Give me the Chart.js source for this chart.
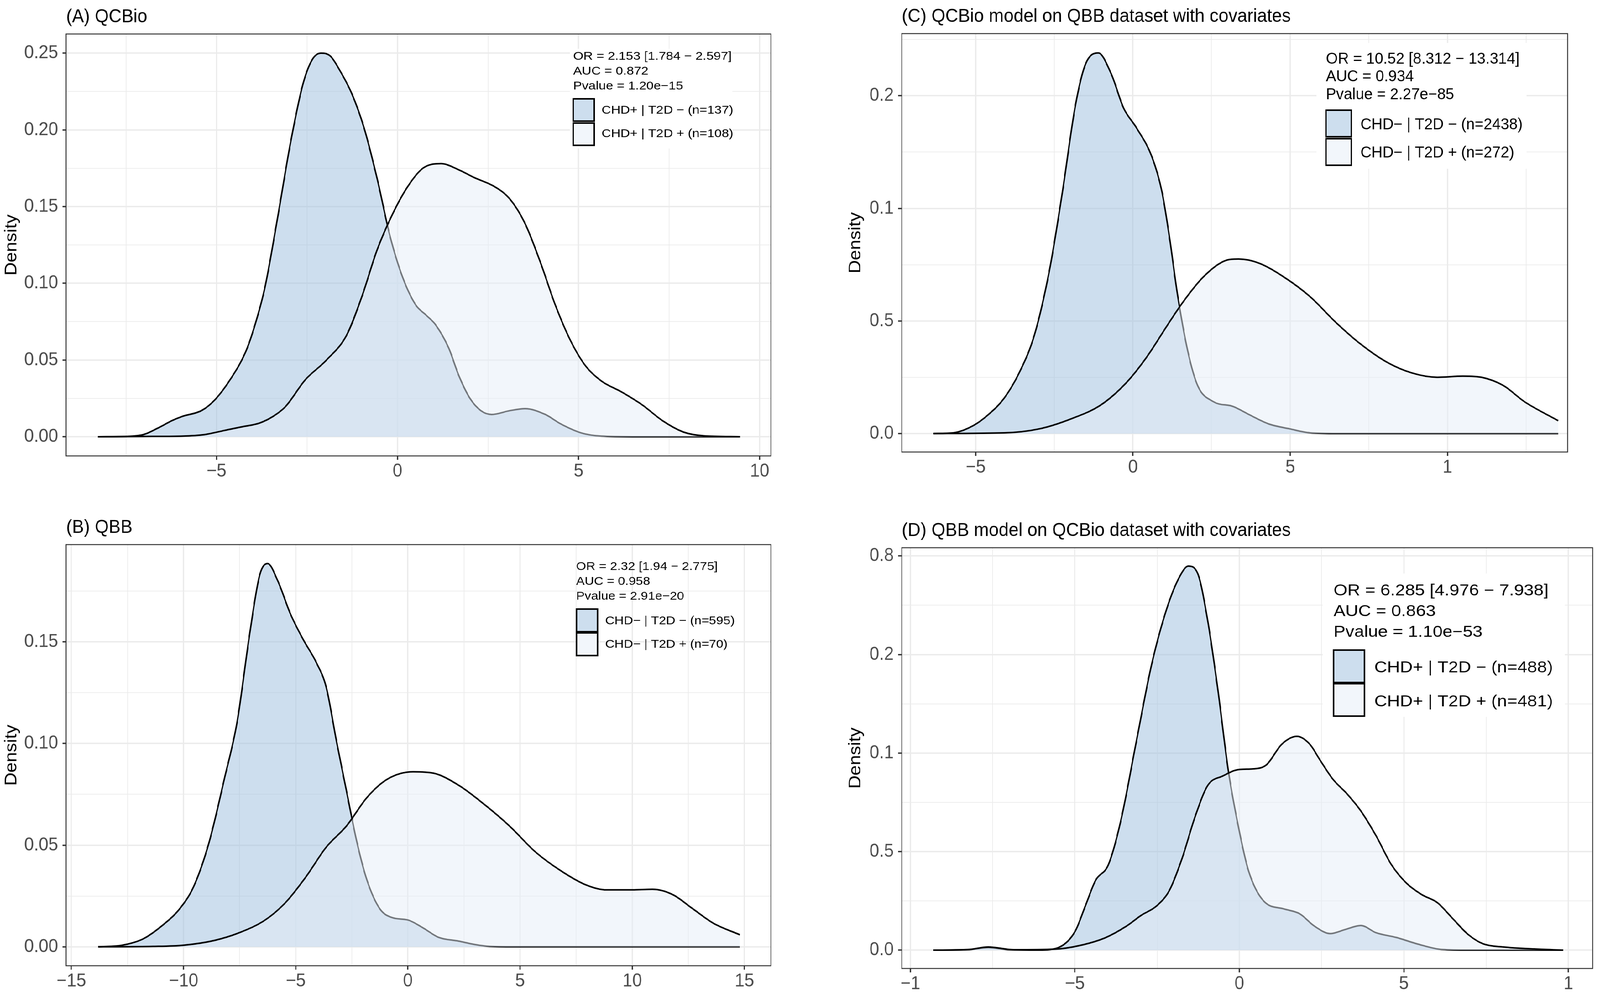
<!DOCTYPE html>
<html>
<head>
<meta charset="utf-8">
<title>Density plots</title>
<script src="https://cdn.jsdelivr.net/npm/chart.js@4.4.1/dist/chart.umd.min.js"></script>
<style>
  html, body { margin: 0; padding: 0; background: #fff; overflow: hidden; }
  #wrap { position: relative; overflow: hidden; background: #fff; }
  #page { position: absolute; left: 0; top: 0; width: 4402px; height: 2552px; overflow: hidden; background: #fff; transform-origin: 0 0; }
  canvas { position: absolute; }
</style>
</head>
<body>
<div id="wrap">
  <div id="page">
    <canvas id="panelA"></canvas>
    <canvas id="panelB"></canvas>
    <canvas id="panelC"></canvas>
    <canvas id="panelD"></canvas>
  </div>
</div>
<script>
// ---- Data ----
// each curve: [x, density]
const A_NEG = [[-8.27,0],[-7.4,0.0003],[-7.0,0.0015],[-6.62,0.0056],[-6.21,0.0107],[-5.95,0.0132],[-5.4,0.0172],[-5.03,0.0244],[-4.6,0.038],[-4.2,0.055],[-3.94,0.0726],[-3.66,0.0975],[-3.31,0.143],[-2.96,0.191],[-2.61,0.23],[-2.35,0.246],[-2.11,0.25],[-1.85,0.248],[-1.6,0.239],[-1.27,0.224],[-0.92,0.201],[-0.56,0.168],[-0.21,0.131],[0.14,0.104],[0.5,0.086],[0.8,0.079],[1.05,0.073],[1.41,0.058],[1.69,0.04],[2.0,0.025],[2.3,0.017],[2.6,0.0145],[3.1,0.017],[3.52,0.0183],[4.08,0.0145],[4.51,0.0083],[5.07,0.0025],[5.63,0.0004],[6.5,0],[9.46,0]];
const A_POS = [[-8.27,0],[-6.76,0.0002],[-5.85,0.0005],[-5.33,0.0014],[-4.82,0.0039],[-4.31,0.0064],[-3.8,0.009],[-3.44,0.0132],[-3.1,0.0195],[-2.54,0.0373],[-1.97,0.0498],[-1.41,0.066],[-0.99,0.091],[-0.56,0.122],[-0.14,0.145],[0.28,0.163],[0.7,0.175],[1.2,0.178],[1.69,0.174],[2.11,0.169],[2.68,0.163],[3.1,0.155],[3.52,0.139],[3.94,0.114],[4.37,0.085],[4.79,0.062],[5.21,0.0456],[5.63,0.0363],[6.2,0.029],[6.76,0.0207],[7.32,0.0104],[7.89,0.0031],[8.45,0.0006],[9.46,0]];

const B_NEG = [[-13.8,0],[-12.73,0.0008],[-11.8,0.0039],[-10.9,0.0109],[-10.23,0.0179],[-9.55,0.0296],[-8.86,0.0514],[-8.18,0.0826],[-7.61,0.1106],[-7.05,0.154],[-6.6,0.183],[-6.25,0.1885],[-5.8,0.18],[-5.23,0.1636],[-4.66,0.151],[-4.09,0.14],[-3.64,0.1277],[-3.18,0.101],[-2.73,0.0763],[-2.27,0.0514],[-1.82,0.0327],[-1.25,0.0187],[-0.68,0.0143],[0,0.0132],[0.68,0.0093],[1.36,0.0047],[2.27,0.0028],[2.95,0.0012],[3.64,0.0002],[5,0],[14.8,0]];
const B_POS = [[-13.8,0],[-11.36,0.0002],[-10,0.0008],[-8.64,0.0031],[-7.5,0.007],[-6.36,0.0132],[-5.45,0.0218],[-4.55,0.0343],[-3.64,0.049],[-2.73,0.0595],[-1.82,0.0735],[-0.91,0.0825],[0.23,0.0861],[1.14,0.0854],[2.27,0.0794],[3.41,0.07],[4.55,0.0592],[5.68,0.0467],[6.82,0.0374],[7.95,0.0304],[8.86,0.028],[10,0.028],[10.9,0.0283],[11.8,0.0257],[12.7,0.0187],[13.6,0.0117],[14.8,0.0059]];

const C_NEG = [[-6.34,0],[-5.72,0.0003],[-5.08,0.0035],[-4.59,0.0085],[-4.1,0.0156],[-3.62,0.0269],[-3.13,0.0439],[-2.64,0.0736],[-2.24,0.1075],[-1.83,0.1457],[-1.51,0.164],[-1.1,0.169],[-0.7,0.16],[-0.29,0.1443],[0.11,0.1358],[0.6,0.123],[0.92,0.1075],[1.17,0.0863],[1.41,0.0623],[1.74,0.0368],[2.06,0.0212],[2.55,0.0142],[3.19,0.012],[3.68,0.0085],[4.33,0.0042],[4.98,0.0021],[5.63,0.0003],[6.5,0],[13.52,0]];
const C_POS = [[-6.34,0],[-4.1,0.0003],[-2.97,0.0021],[-1.99,0.0064],[-1.02,0.0127],[-0.21,0.0226],[0.44,0.034],[1.09,0.048],[1.57,0.058],[2.22,0.0693],[2.87,0.0764],[3.36,0.0775],[4.0,0.0757],[4.82,0.0693],[5.63,0.0608],[6.44,0.0495],[7.25,0.0396],[8.06,0.0318],[8.87,0.0269],[9.68,0.025],[10.49,0.0255],[11.14,0.0248],[11.79,0.0212],[12.44,0.0142],[13.52,0.0057]];

const D_NEG = [[-9.3,0],[-8.25,0.0002],[-7.63,0.0013],[-7.0,0.0002],[-6.08,0],[-5.46,0.0016],[-4.99,0.0096],[-4.68,0.0225],[-4.37,0.0354],[-3.98,0.0434],[-3.6,0.0659],[-3.13,0.106],[-2.67,0.1447],[-2.2,0.1736],[-1.81,0.1897],[-1.55,0.1949],[-1.27,0.1913],[-0.96,0.167],[-0.65,0.1318],[-0.34,0.0916],[-0.03,0.0627],[0.28,0.0402],[0.74,0.0249],[1.36,0.0209],[1.83,0.0185],[2.29,0.0121],[2.76,0.0084],[3.22,0.0105],[3.69,0.0125],[4.16,0.0088],[4.78,0.0064],[5.4,0.0032],[6.17,0.0003],[7,0],[9.84,0]];
const D_POS = [[-9.3,0],[-8.25,0.0003],[-7.63,0.0016],[-6.85,0.0002],[-5.61,0.0005],[-4.84,0.0024],[-4.06,0.0064],[-3.44,0.0121],[-2.98,0.0177],[-2.51,0.0225],[-2.12,0.0305],[-1.74,0.0466],[-1.35,0.0675],[-0.96,0.0836],[-0.5,0.0884],[-0.03,0.0916],[0.43,0.092],[0.82,0.094],[1.29,0.1045],[1.75,0.1085],[2.14,0.1045],[2.45,0.0965],[2.84,0.0868],[3.3,0.0788],[3.69,0.0707],[4.16,0.0579],[4.62,0.0434],[5.09,0.0338],[5.55,0.0281],[6.02,0.0241],[6.48,0.0161],[6.95,0.008],[7.41,0.0032],[8.03,0.0016],[8.96,0.0006],[9.84,0]];

// ---- Axis ranges and tick labels ----
const A_XRANGE = [-9.15, 10.31];
const A_YRANGE = [-0.0125, 0.2625];
const A_XTICKS = [-5, 0, 5, 10];
const A_XLABELS = ['\u22125', '0', '5', '10'];
const A_YTICKS = [0, 0.05, 0.10, 0.15, 0.20, 0.25];
const A_YLABELS = ['0.00', '0.05', '0.10', '0.15', '0.20', '0.25'];

const B_XRANGE = [-15.23, 16.18];
const B_YRANGE = [-0.0093, 0.1978];
const B_XTICKS = [-15, -10, -5, 0, 5, 10, 15];
const B_XLABELS = ['\u221215', '\u221210', '\u22125', '0', '5', '10', '15'];
const B_YTICKS = [0, 0.05, 0.10, 0.15];
const B_YLABELS = ['0.00', '0.05', '0.10', '0.15'];

const C_XRANGE = [-7.35, 13.82];
const C_YRANGE = [-0.0082, 0.1776];
const C_XTICKS = [-5, 0, 5, 10];
const C_XLABELS = ['\u22125', '0', '5', '1'];
const C_YTICKS = [0, 0.05, 0.10, 0.15];
const C_YLABELS = ['0.0', '0.5', '0.1', '0.2'];

const D_XRANGE = [-10.26, 10.74];
const D_YRANGE = [-0.0093, 0.2042];
const D_XTICKS = [-10, -5, 0, 5, 10];
const D_XLABELS = ['\u22121', '\u22125', '0', '5', '1'];
const D_YTICKS = [0, 0.05, 0.10, 0.15, 0.20];
const D_YLABELS = ['0.0', '0.5', '0.1', '0.2', '0.8'];

// ---- Texts ----
const TITLES = ['(A) QCBio', '(B) QBB', '(C) QCBio model on QBB dataset with covariates', '(D) QBB model on QCBio dataset with covariates'];
const A_STATS = ['OR = 2.153 [1.784 \u2212 2.597]', 'AUC = 0.872', 'Pvalue = 1.20e\u221215'];
const A_GROUPS = ['CHD+ | T2D \u2212 (n=137)', 'CHD+ | T2D + (n=108)'];
const B_STATS = ['OR = 2.32 [1.94 \u2212 2.775]', 'AUC = 0.958', 'Pvalue = 2.91e\u221220'];
const B_GROUPS = ['CHD\u2212 | T2D \u2212 (n=595)', 'CHD\u2212 | T2D + (n=70)'];
const C_STATS = ['OR = 10.52 [8.312 \u2212 13.314]', 'AUC = 0.934', 'Pvalue = 2.27e\u221285'];
const C_GROUPS = ['CHD\u2212 | T2D \u2212 (n=2438)', 'CHD\u2212 | T2D + (n=272)'];
const D_STATS = ['OR = 6.285 [4.976 \u2212 7.938]', 'AUC = 0.863', 'Pvalue = 1.10e\u221253'];
const D_GROUPS = ['CHD+ | T2D \u2212 (n=488)', 'CHD+ | T2D + (n=481)'];

// ---- Styles ----
const FONT = '"Liberation Sans", Arial, Helvetica, sans-serif';
const NEG_FILL = 'rgba(155,189,221,0.5)';
const POS_FILL = 'rgba(229,237,247,0.5)';
const GRID = '#ebebeb';
const AXIS_DARK = '#333333';
const TICK_TEXT = '#4d4d4d';
const X_AXIS_H = 70;

// ---- Stretch the 4402x2552 page over the whole window ----
const page = document.getElementById('page');
const wrap = document.getElementById('wrap');
const fitX = window.innerWidth / 4402;
const fitY = window.innerHeight / 2552;
page.style.transform = 'scale(' + fitX + ',' + fitY + ')';
wrap.style.width = window.innerWidth + 'px';
wrap.style.height = window.innerHeight + 'px';

// ---- Helpers ----
function withMinor(major, range) {
  const step = major[1] - major[0];
  const out = [];
  for (let v = major[0] - step; v <= major[major.length - 1] + step + 1e-9; v += step / 2) {
    if (v >= range[0] && v <= range[1]) out.push(+v.toFixed(6));
  }
  return out;
}

function isMajor(v, major) {
  return major.some(t => Math.abs(t - v) < 1e-9);
}

function labelFor(v, major, labels) {
  const i = major.findIndex(t => Math.abs(t - v) < 1e-9);
  return i < 0 ? '' : labels[i];
}

function toPoints(arr) {
  return arr.map(p => ({ x: p[0], y: p[1] }));
}

function scaledText(ctx, s, x, y, sx) {
  ctx.save();
  ctx.translate(x, y);
  ctx.scale(sx, 1);
  ctx.fillText(s, 0, 0);
  ctx.restore();
}

// ---- Plugin: panel border, title, axis title, legend ----
const panelDeco = {
  id: 'panelDeco',
  afterDraw(chart, args, o) {
    const { ctx, chartArea: a } = chart;
    const ox = o.offset[0], oy = o.offset[1];
    ctx.save();

    // panel border
    ctx.strokeStyle = AXIS_DARK;
    ctx.lineWidth = 2.5;
    ctx.strokeRect(a.left, a.top, a.right - a.left, a.bottom - a.top);

    // title
    ctx.fillStyle = '#000';
    ctx.font = '49px ' + FONT;
    ctx.textAlign = 'left';
    ctx.textBaseline = 'alphabetic';
    ctx.fillText(o.title, a.left, a.top - 30);

    // y axis title
    ctx.save();
    ctx.translate(o.densityX - ox, (a.top + a.bottom) / 2);
    ctx.rotate(-Math.PI / 2);
    ctx.textAlign = 'center';
    ctx.textBaseline = 'middle';
    ctx.font = '47px ' + FONT;
    ctx.fillText('Density', 0, 0);
    ctx.restore();

    // legend
    const lg = o.legend;
    if (lg.bg) {
      ctx.fillStyle = '#fff';
      ctx.fillRect(lg.bg[0] - ox, lg.bg[1] - oy, lg.bg[2], lg.bg[3]);
    }
    ctx.fillStyle = '#000';
    ctx.font = lg.font + 'px ' + FONT;
    ctx.textAlign = 'left';
    ctx.textBaseline = 'alphabetic';
    o.stats.forEach((s, i) => scaledText(ctx, s, lg.tx - ox, lg.base[i] - oy, lg.sx));

    [NEG_FILL, POS_FILL].forEach((fill, i) => {
      const kx = lg.kx - ox, ky = lg.ky[i] - oy;
      ctx.fillStyle = '#fff';
      ctx.fillRect(kx, ky, lg.kw, lg.kh);
      ctx.fillStyle = fill;
      ctx.fillRect(kx, ky, lg.kw, lg.kh);
      ctx.strokeStyle = '#000';
      ctx.lineWidth = 4;
      ctx.strokeRect(kx, ky, lg.kw, lg.kh);
    });

    ctx.fillStyle = '#000';
    ctx.textBaseline = 'middle';
    o.groups.forEach((s, i) => scaledText(ctx, s, lg.lx - ox, lg.ly[i] - oy, lg.sx));

    ctx.restore();
  }
};

// ---- Build one panel ----
function makePanel(p) {
  const canvas = document.getElementById(p.id);
  const [cx, cy, cw, ch] = p.canvas;
  canvas.width = cw;
  canvas.height = ch;
  canvas.style.left = cx + 'px';
  canvas.style.top = cy + 'px';
  canvas.style.width = cw + 'px';
  canvas.style.height = ch + 'px';

  const [L, T, R, B] = p.area;
  const yAxisW = L - cx;
  const xTicksAll = withMinor(p.xTicks, p.xRange);
  const yTicksAll = withMinor(p.yTicks, p.yRange);

  const tickFont = { family: FONT, size: 48 };

  new Chart(canvas.getContext('2d'), {
    type: 'line',
    data: {
      datasets: [
        {
          label: p.groups[1],
          data: toPoints(p.pos),
          borderColor: '#000',
          borderWidth: 4,
          backgroundColor: POS_FILL,
          fill: 'origin',
          pointRadius: 0,
          cubicInterpolationMode: 'monotone',
          borderJoinStyle: 'round',
          order: 1
        },
        {
          label: p.groups[0],
          data: toPoints(p.neg),
          borderColor: '#000',
          borderWidth: 4,
          backgroundColor: NEG_FILL,
          fill: 'origin',
          pointRadius: 0,
          cubicInterpolationMode: 'monotone',
          borderJoinStyle: 'round',
          order: 2
        }
      ]
    },
    options: {
      responsive: false,
      animation: false,
      devicePixelRatio: 1,
      layout: {
        padding: {
          left: 0,
          top: T - cy,
          right: cx + cw - R,
          bottom: cy + ch - B - X_AXIS_H
        }
      },
      plugins: {
        legend: { display: false },
        tooltip: { enabled: false },
        panelDeco: {
          offset: [cx, cy],
          title: p.title,
          densityX: p.densityX,
          stats: p.stats,
          groups: p.groups,
          legend: p.legend
        }
      },
      scales: {
        x: {
          type: 'linear',
          position: 'bottom',
          min: p.xRange[0],
          max: p.xRange[1],
          afterBuildTicks: s => { s.ticks = xTicksAll.map(v => ({ value: v })); },
          afterFit: s => { s.height = X_AXIS_H; },
          border: { display: false },
          grid: {
            color: GRID,
            lineWidth: c => (c.tick && isMajor(c.tick.value, p.xTicks)) ? 3.5 : 1.8,
            drawTicks: true,
            tickLength: 10,
            tickWidth: 3.5,
            tickColor: c => (c.tick && isMajor(c.tick.value, p.xTicks)) ? AXIS_DARK : 'rgba(0,0,0,0)'
          },
          ticks: {
            autoSkip: false,
            maxRotation: 0,
            minRotation: 0,
            padding: 1,
            color: TICK_TEXT,
            font: tickFont,
            callback: v => labelFor(v, p.xTicks, p.xLabels)
          }
        },
        y: {
          type: 'linear',
          position: 'left',
          min: p.yRange[0],
          max: p.yRange[1],
          afterBuildTicks: s => { s.ticks = yTicksAll.map(v => ({ value: v })); },
          afterFit: s => { s.width = yAxisW; },
          border: { display: false },
          grid: {
            color: GRID,
            lineWidth: c => (c.tick && isMajor(c.tick.value, p.yTicks)) ? 3.5 : 1.8,
            drawTicks: true,
            tickLength: 10,
            tickWidth: 3.5,
            tickColor: c => (c.tick && isMajor(c.tick.value, p.yTicks)) ? AXIS_DARK : 'rgba(0,0,0,0)'
          },
          ticks: {
            autoSkip: false,
            padding: 12,
            color: TICK_TEXT,
            font: tickFont,
            callback: v => labelFor(v, p.yTicks, p.yLabels)
          }
        }
      }
    },
    plugins: [panelDeco]
  });
}

// ---- Panels ----
makePanel({
  id: 'panelA', canvas: [0, 0, 2200, 1276], area: [182, 87, 2121, 1167],
  xRange: A_XRANGE, yRange: A_YRANGE, xTicks: A_XTICKS, xLabels: A_XLABELS, yTicks: A_YTICKS, yLabels: A_YLABELS,
  neg: A_NEG, pos: A_POS, title: TITLES[0], densityX: 32, stats: A_STATS, groups: A_GROUPS,
  legend: { bg: [1568, 125, 447, 255], tx: 1577, base: [153, 191, 229], font: 30, sx: 1.2,
            kx: 1577, kw: 58, ky: [253, 315], kh: 57, lx: 1655, ly: [283, 343] }
});

makePanel({
  id: 'panelB', canvas: [0, 1276, 2200, 1276], area: [182, 1394, 2121, 2472],
  xRange: B_XRANGE, yRange: B_YRANGE, xTicks: B_XTICKS, xLabels: B_XLABELS, yTicks: B_YTICKS, yLabels: B_YLABELS,
  neg: B_NEG, pos: B_POS, title: TITLES[1], densityX: 32, stats: B_STATS, groups: B_GROUPS,
  legend: { bg: null, tx: 1585, base: [1459, 1497, 1535], font: 30, sx: 1.18,
            kx: 1586, kw: 58, ky: [1559, 1620], kh: 58, lx: 1665, ly: [1590, 1650] }
});

makePanel({
  id: 'panelC', canvas: [2200, 0, 2202, 1276], area: [2481, 86, 4313, 1157],
  xRange: C_XRANGE, yRange: C_YRANGE, xTicks: C_XTICKS, xLabels: C_XLABELS, yTicks: C_YTICKS, yLabels: C_YLABELS,
  neg: C_NEG, pos: C_POS, title: TITLES[2], densityX: 2354, stats: C_STATS, groups: C_GROUPS,
  legend: { bg: [3622, 110, 578, 322], tx: 3648, base: [163, 208, 254], font: 40, sx: 1.05,
            kx: 3648, kw: 70, ky: [282, 355], kh: 68, lx: 3743, ly: [320, 392] }
});

makePanel({
  id: 'panelD', canvas: [2200, 1276, 2202, 1276], area: [2481, 1402, 4382, 2479],
  xRange: D_XRANGE, yRange: D_YRANGE, xTicks: D_XTICKS, xLabels: D_XLABELS, yTicks: D_YTICKS, yLabels: D_YLABELS,
  neg: D_NEG, pos: D_POS, title: TITLES[3], densityX: 2354, stats: D_STATS, groups: D_GROUPS,
  legend: { bg: [3639, 1468, 666, 367], tx: 3669, base: [1524, 1577, 1630], font: 40, sx: 1.22,
            kx: 3669, kw: 85, ky: [1664, 1750], kh: 83, lx: 3781, ly: [1710, 1797] }
});
</script>
</body>
</html>
